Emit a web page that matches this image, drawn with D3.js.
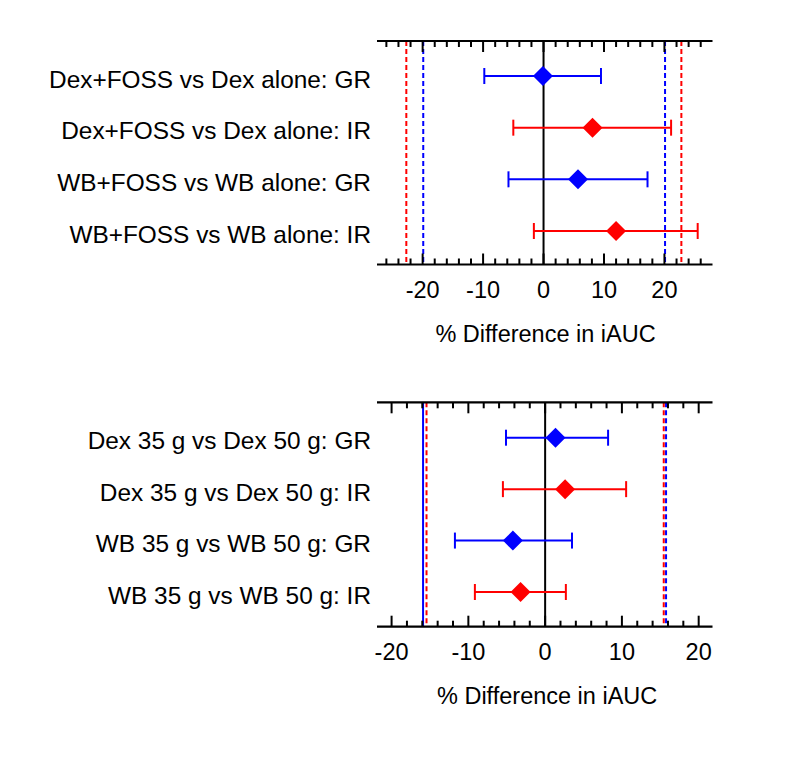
<!DOCTYPE html>
<html><head><meta charset="utf-8">
<script src="https://cdn.jsdelivr.net/npm/d3@7"></script>
<style>body{margin:0;background:#fff}svg{display:block}text{font-family:Arial,"Liberation Sans",sans-serif;fill:#000}</style>
</head><body><svg id="c" width="787" height="759"></svg>
<script>
// Panel 1 data
const cats1 = ["Dex+FOSS vs Dex alone: GR","Dex+FOSS vs Dex alone: IR","WB+FOSS vs WB alone: GR","WB+FOSS vs WB alone: IR"];
const est1 = [-0.1, 8.1, 5.7, 12.0];
const lo1 = [-9.8, -5.0, -5.8, -1.6];
const hi1 = [9.5, 21.1, 17.2, 25.5];
const col1 = ["GR","IR","GR","IR"];
const refs1 = [{v:-22.7,k:"IR",dash:true},{v:-19.9,k:"GR",dash:true},{v:20.1,k:"GR",dash:true},{v:22.8,k:"IR",dash:true}];
const ticks1 = [-20,-10,0,10,20];
const minor1 = d3.range(-26, 27, 2);

// Panel 2 data
const cats2 = ["Dex 35 g vs Dex 50 g: GR","Dex 35 g vs Dex 50 g: IR","WB 35 g vs WB 50 g: GR","WB 35 g vs WB 50 g: IR"];
const est2 = [1.35, 2.6, -4.2, -3.2];
const lo2 = [-5.1, -5.5, -11.75, -9.15];
const hi2 = [8.2, 10.55, 3.5, 2.7];
const col2 = ["GR","IR","GR","IR"];
const refs2 = [{v:-15.9,k:"GR",dash:false},{v:-15.45,k:"IR",dash:true},{v:15.45,k:"IR",dash:true},{v:15.75,k:"GR",dash:true}];
const ticks2 = [-20,-10,0,10,20];
const minor2 = d3.range(-20, 21, 2);

const xTitle = "% Difference in iAUC";
const colors = {GR:"#0000FF", IR:"#FF0000"};

const svg = d3.select("#c");

function panel(o){
  const g = svg.append("g");
  const x = d3.scaleLinear().domain(o.domain).range([377, 712.5]);
  const y = d3.scalePoint().domain(o.cats).range(o.rows);
  const [yt, yb] = o.axes;
  // reference lines
  o.refs.forEach(r=>{
    g.append("line").attr("x1",x(r.v)).attr("x2",x(r.v)).attr("y1",yt).attr("y2",yb)
      .attr("stroke",colors[r.k]).attr("stroke-width",2)
      .attr("stroke-dasharray", r.dash ? "5,3" : null);
  });
  // zero line
  g.append("line").attr("x1",x(0)).attr("x2",x(0)).attr("y1",yt).attr("y2",yb)
    .attr("stroke","#000").attr("stroke-width",2);
  // axes: top and bottom with inward ticks
  [[yt,1],[yb,-1]].forEach(([yy,dir])=>{
    g.append("line").attr("x1",377).attr("x2",712.5).attr("y1",yy).attr("y2",yy)
      .attr("stroke","#000").attr("stroke-width",2.2);
    g.selectAll(null).data(o.minor).enter().append("line")
      .attr("x1",d=>x(d)).attr("x2",d=>x(d)).attr("y1",yy)
      .attr("y2",d=> yy + dir*(d%10===0 ? 11 : 6))
      .attr("stroke","#000").attr("stroke-width",2);
  });
  // tick labels
  g.selectAll(null).data(o.ticks).enter().append("text")
    .attr("x",d=>x(d)).attr("y",yb+33).attr("text-anchor","middle")
    .attr("font-size",23.5).text(d=>d);
  g.append("text").attr("x",x(0)+2).attr("y",yb+77).attr("text-anchor","middle")
    .attr("font-size",23.5).text(xTitle);
  // category labels
  g.selectAll(null).data(o.cats).enter().append("text")
    .attr("x",371).attr("y",d=>y(d)+11.5).attr("text-anchor","end")
    .attr("font-size",24.4).text(d=>d);
  // error bars
  o.cats.forEach((c,i)=>{
    const cy = y(c), colr = colors[o.col[i]];
    const eg = g.append("g").attr("stroke",colr).attr("stroke-width",2);
    eg.append("line").attr("x1",x(o.lo[i])).attr("x2",x(o.hi[i])).attr("y1",cy).attr("y2",cy);
    [o.lo[i],o.hi[i]].forEach(v=>{
      eg.append("line").attr("x1",x(v)).attr("x2",x(v)).attr("y1",cy-8).attr("y2",cy+8);
    });
    g.append("path").attr("d",d3.symbol(d3.symbolSquare,200)())
      .attr("transform",`translate(${x(o.est[i])},${cy}) rotate(45)`)
      .attr("fill",colr);
  });
}

panel({cats:cats1, est:est1, lo:lo1, hi:hi1, col:col1, refs:refs1, ticks:ticks1, minor:minor1,
  domain:[-27.55,27.95], rows:[76,231], axes:[41,264.5]});
panel({cats:cats2, est:est2, lo:lo2, hi:hi2, col:col2, refs:refs2, ticks:ticks2, minor:minor2,
  domain:[-21.9,21.8], rows:[437.7,592], axes:[402.3,626.7]});
</script></body></html>
